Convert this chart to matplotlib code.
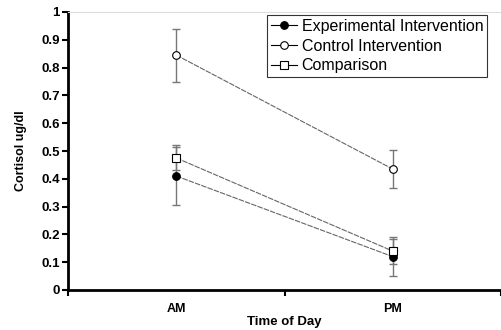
import numpy as np
import matplotlib.pyplot as plt
from matplotlib.lines import Line2D

plt.rcParams['font.family'] = ['Liberation Sans', 'DejaVu Sans']

times = ['AM', 'PM']
experimental = [0.41, 0.12]
experimental_err = [0.105, 0.07]
control = [0.845, 0.435]
control_err = [0.095, 0.067]
comparison = [0.475, 0.14]
comparison_err = [0.045, 0.045]

series = [
    ('Experimental Intervention', experimental, experimental_err, 'o', 'black'),
    ('Control Intervention', control, control_err, 'o', 'white'),
    ('Comparison', comparison, comparison_err, 's', 'white'),
]

fig = plt.figure(figsize=(5.01, 3.30), dpi=100)
ax = fig.add_axes([68 / 501, 40 / 330, 433 / 501, 278 / 330])

x = np.arange(len(times)) + 0.5
handles = []
for label, vals, errs, marker, face in series:
    ax.errorbar(x, vals, yerr=errs, fmt='none', ecolor='#777777',
                elinewidth=1.0, capsize=3, capthick=1.0, zorder=2)
    ax.plot(x, vals, color='#666666', lw=0.8, ls=(0, (5, 1)), zorder=3)
    ax.plot(x, vals, ls='none', marker=marker, ms=5.5, mfc=face,
            mec='black', mew=0.8, zorder=4)
    handles.append(Line2D([], [], color='black', lw=0.8, marker=marker,
                          ms=5.5, mfc=face, mec='black', mew=0.8))

ax.set_xlim(0, 2)
ax.set_ylim(0, 1)
ax.set_xticks([0, 1, 2])
ax.set_xticklabels([])
ax.set_xticks(x, minor=True)
ax.set_xticklabels(times, minor=True, fontsize=9, fontweight='bold')
ax.tick_params(axis='x', which='minor', length=0, pad=9)
ax.tick_params(axis='x', which='major', length=4, width=1.5)
ax.set_yticks(np.arange(0, 1.01, 0.1))
ax.set_yticklabels(['0', '0.1', '0.2', '0.3', '0.4', '0.5', '0.6', '0.7', '0.8', '0.9', '1'],
                   fontsize=9.5, fontweight='bold')
ax.tick_params(axis='y', length=4, width=1.5, pad=2)

for side in ['left', 'bottom']:
    ax.spines[side].set_linewidth(2)
ax.spines['right'].set_visible(False)
ax.spines['top'].set_color('#dddddd')
ax.spines['top'].set_linewidth(0.8)

ax.set_ylabel('Cortisol ug/dl', fontsize=9, fontweight='bold', labelpad=10)
ax.set_xlabel('Time of Day', fontsize=9.5, fontweight='bold', labelpad=1)

leg = ax.legend(handles, [s[0] for s in series], loc='upper left',
                bbox_to_anchor=(0.46, 0.99), fontsize=11.5, frameon=True,
                fancybox=False, edgecolor='black', handlelength=1.6,
                handletextpad=0.3, borderpad=0.25, labelspacing=0.3,
                borderaxespad=0)
leg.get_frame().set_linewidth(0.8)

fig.savefig('out.png', dpi=100)
